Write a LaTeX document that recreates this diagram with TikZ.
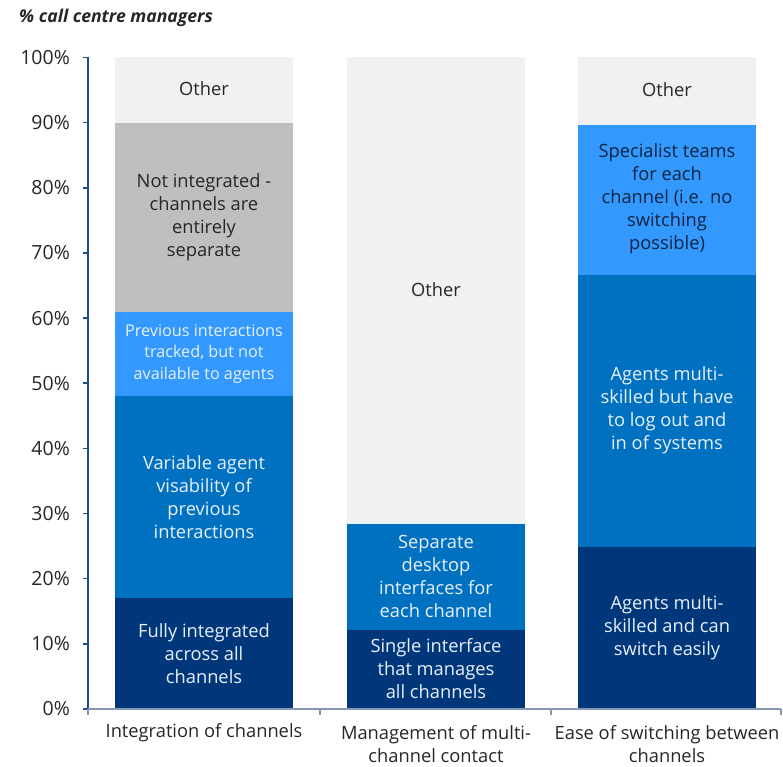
\documentclass[tikz,border=0pt]{standalone}
\usepackage{fontspec}
\setmainfont{Open Sans}
\definecolor{navy}{HTML}{00377A}
\definecolor{mid}{HTML}{0070C0}
\definecolor{lightb}{HTML}{3399FF}
\definecolor{grayseg}{HTML}{BFBFBF}
\definecolor{otherc}{HTML}{F0F1F3}
\definecolor{yaxis}{HTML}{1F4E8C}
\definecolor{xaxis}{HTML}{8497B0}
\definecolor{txt}{HTML}{262626}
\definecolor{wtxt}{HTML}{E8F0FA}
\definecolor{dtxt}{HTML}{0F2440}
\begin{document}
\begin{tikzpicture}[x=1pt,y=1pt,
  lab/.style={align=center,font=\fontsize{18.3}{23}\selectfont,text=wtxt,inner sep=0pt},
  darklab/.style={lab,text=txt},
  smalllab/.style={lab,font=\fontsize{16.2}{21.3}\selectfont},
  ylab/.style={anchor=east,font=\fontsize{19.5}{22}\selectfont,text=txt,inner sep=0pt},
  catlab/.style={align=center,font=\fontsize{18.3}{23}\selectfont,text=txt,inner sep=0pt}]
\useasboundingbox (0,0) rectangle (783,766);
% bar 1
\fill[navy]   (115,{57+6.515*0})  rectangle (293,{57+6.515*17});
\fill[mid]    (115,{57+6.515*17}) rectangle (293,{57+6.515*48});
\fill[lightb] (115,{57+6.515*48}) rectangle (293,{57+6.515*60.9});
\fill[grayseg](115,{57+6.515*60.9}) rectangle (293,{57+6.515*90});
\fill[otherc] (115,{57+6.515*90}) rectangle (293,{57+6.515*100});
% bar 2
\fill[navy]   (347,{57+6.515*0})  rectangle (525,{57+6.515*12.1});
\fill[mid]    (347,{57+6.515*12.1}) rectangle (525,{57+6.515*28.4});
\fill[otherc] (347,{57+6.515*28.4}) rectangle (525,{57+6.515*100});
% bar 3
\fill[navy]   (578,{57+6.515*0})  rectangle (756,{57+6.515*24.9});
\fill[mid]    (578,{57+6.515*24.9}) rectangle (756,{57+6.515*66.6});
\fill[lightb] (578,{57+6.515*66.6}) rectangle (756,{57+6.515*89.6});
\fill[otherc] (578,{57+6.515*89.6}) rectangle (756,{57+6.515*100});
% axes
\coordinate (y0) at (88,57);
\coordinate (y100) at (88,{57+6.515*100});
\coordinate (xend) at (781,57);
\draw[yaxis,line width=1.5pt] (y0) -- (y100);
\foreach \p in {0,10,...,100}{
  \draw[yaxis,line width=1.5pt] (82.5,{57+6.515*\p}) -- (88,{57+6.515*\p});
  \node[ylab] (yl\p) at (70,{57+6.515*\p}) {\p\%};
}
\draw[xaxis,line width=1.2pt] (y0) -- (xend);
\foreach \x in {88,320,551,781}{
  \draw[xaxis,line width=1.2pt] (\x,57) -- (\x,51);
}
% title
\node[anchor=west,font=\fontsize{17.6}{20}\selectfont\bfseries\itshape,text=txt,inner sep=0pt] (title) at (19,748) {\% call centre managers};
% bar 1 labels
\node[darklab] (b1o) at (204,677) {Other};
\node[darklab] (b1n) at (204,549) {Not integrated -\\channels are\\entirely\\separate};
\node[smalllab] (b1p) at (204,412) {Previous interactions\\tracked, but not\\available to agents};
\node[lab] (b1v) at (204,269) {Variable agent\\visability of\\previous\\interactions};
\node[lab] (b1f) at (204,112) {Fully integrated\\across all\\channels};
% bar 2 labels
\node[darklab] (b2o) at (436,476) {Other};
\node[lab] (b2s) at (436,190) {Separate\\desktop\\interfaces for\\each channel};
\node[lab] (b2i) at (436,97) {Single interface\\that manages\\all channels};
% bar 3 labels
\node[darklab] (b3o) at (667,676) {Other};
\node[lab,text=dtxt] (b3s) at (667,567) {Specialist teams\\for each\\channel (i.e. no\\switching\\possible)};
\node[lab] (b3m) at (667,356) {Agents multi-\\skilled but have\\to log out and\\in of systems};
\node[lab] (b3e) at (667,138) {Agents multi-\\skilled and can\\switch easily};
% categories
\node[catlab] (c1) at (204,33) {Integration of channels};
\node[catlab] (c2) at (436,21.5) {Management of multi-\\channel contact};
\node[catlab] (c3) at (667,21.5) {Ease of switching between\\channels};
\end{tikzpicture}
\end{document}
